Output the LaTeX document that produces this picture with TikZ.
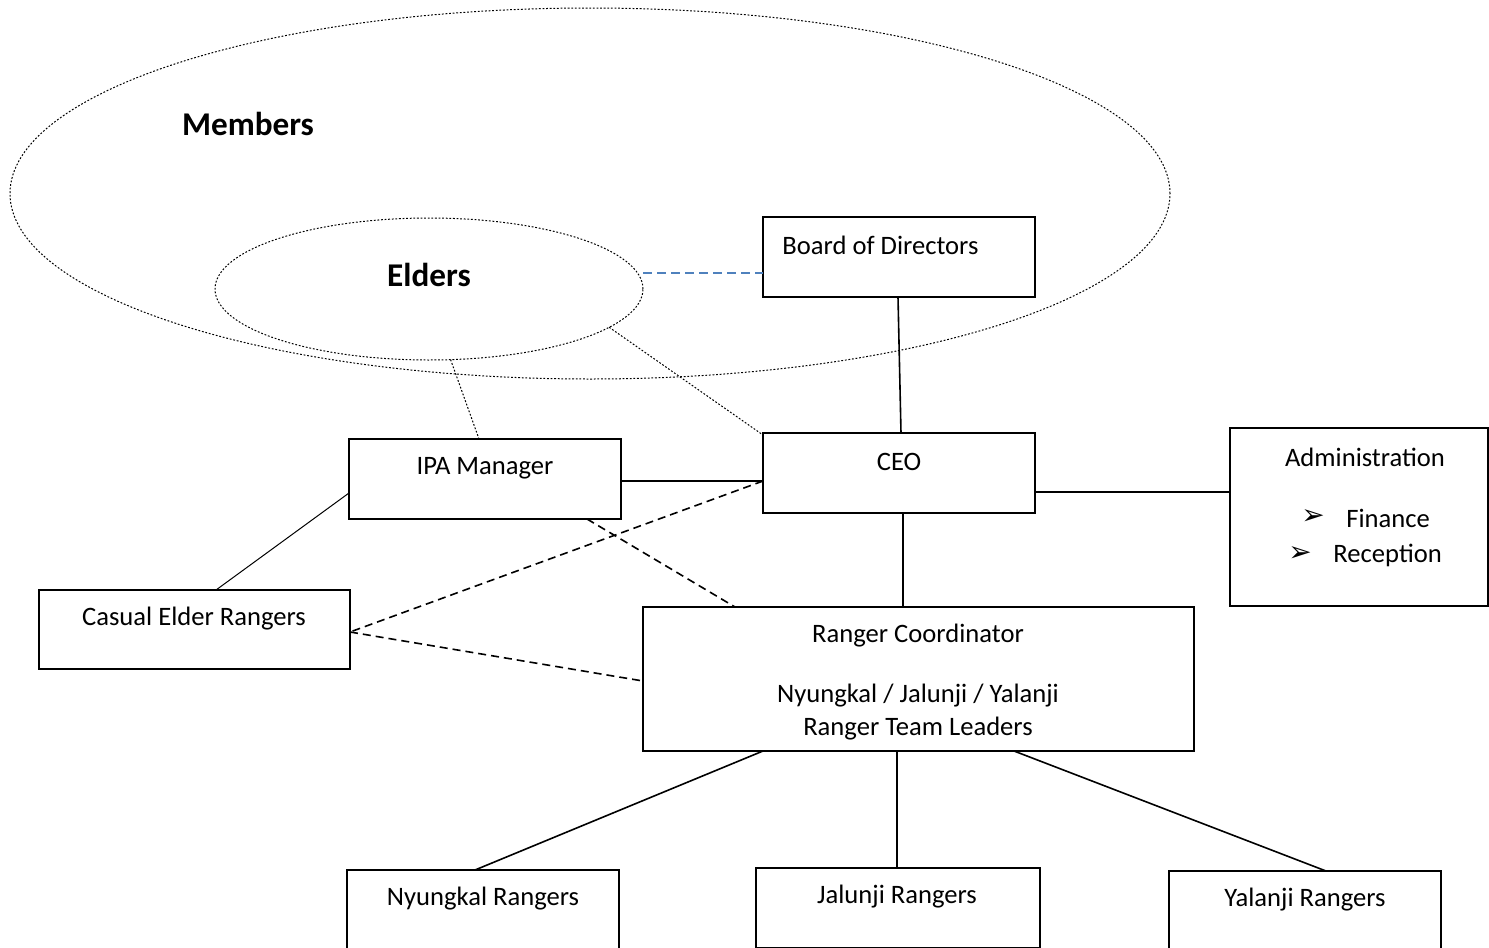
\documentclass[tikz,border=0pt]{standalone}
\usepackage{fontspec}
\setmainfont{Carlito}
\newfontfamily\symfont{DejaVu Sans}
\usetikzlibrary{shapes.geometric,calc}
\definecolor{linkblue}{HTML}{4F81BD}
\begin{document}
\begin{tikzpicture}[x=0.5pt,y=-0.5pt,
  box/.style={draw,line width=1pt,rectangle,inner sep=0pt,outer sep=0pt},
  ring/.style={draw,ellipse,line width=0.5pt,dash pattern=on 0.9pt off 0.9pt,inner sep=0pt,outer sep=0pt},
  txt/.style={font=\fontsize{13.3}{16}\selectfont,inner sep=0pt},
  big/.style={font=\fontsize{16.6}{20}\selectfont\bfseries,inner sep=0pt},
  solidlink/.style={line width=0.8pt},
  thinlink/.style={line width=0.5pt},
  dashlink/.style={line width=0.8pt,dash pattern=on 4pt off 2.5pt},
  dotlink/.style={line width=0.5pt,dash pattern=on 0.9pt off 0.9pt},
  bluelink/.style={line width=1pt,linkblue,dash pattern=on 4.5pt off 2.5pt}]
\useasboundingbox (0,0) rectangle (1489,948);
\clip (0,0) rectangle (1489,948);
% ellipses
\node[ring,minimum width=580pt,minimum height=185.5pt] (members) at (590,193.5) {};
\node[ring,minimum width=214pt,minimum height=71pt] (elders) at (429,289) {};
\node[big] (memberst) at (248,124) {Members};
\node[big] (elderst) at (429,275) {Elders};
% boxes
\node[box,minimum width=136pt,minimum height=40pt] (board) at (899,257) {};
\node[box,minimum width=136pt,minimum height=40pt] (ceo) at (899,473) {};
\node[box,minimum width=136pt,minimum height=40pt] (ipa) at (485,479) {};
\node[box,minimum width=129pt,minimum height=89pt] (admin) at (1359,517) {};
\node[box,minimum width=155.5pt,minimum height=39.5pt] (casual) at (194.5,629.5) {};
\node[box,minimum width=275.5pt,minimum height=72pt] (rc) at (918.5,679) {};
\node[box,minimum width=136pt,minimum height=40pt] (nyung) at (483,910) {};
\node[box,minimum width=142pt,minimum height=40pt] (jalun) at (898,908) {};
\node[box,minimum width=136pt,minimum height=40pt] (yalan) at (1305,911) {};
% texts
\node[txt,anchor=west] (boardt) at (782,245) {Board of Directors};
\node[txt] (ceot) at (899,462) {CEO};
\node[txt] (ipat) at (485,468) {IPA Manager};
\node[txt] (admint) at (1365,457) {Administration};
\node[txt] (bul1) at (1313,517) {\symfont\fontsize{14}{16}\selectfont ➢};
\node[txt,anchor=west] (fint) at (1346,518) {Finance};
\node[txt] (bul2) at (1300,554) {\symfont\fontsize{14}{16}\selectfont ➢};
\node[txt,anchor=west] (rect) at (1333,555) {Reception};
\node[txt] (casualt) at (194,619) {Casual Elder Rangers};
\node[txt] (rct1) at (918,636) {Ranger Coordinator};
\node[txt] (rct2) at (918,696) {Nyungkal / Jalunji / Yalanji};
\node[txt] (rct3) at (918,729) {Ranger Team Leaders};
\node[txt] (nyungt) at (483,899) {Nyungkal Rangers};
\node[txt] (jalunt) at (897,897) {Jalunji Rangers};
\node[txt] (yalant) at (1305,900) {Yalanji Rangers};
% connectors
\coordinate (bluestart) at ($(elders.east)+(0,-16)$);
\draw[bluelink] (bluestart) -- (bluestart -| board.west);
\draw[solidlink] ($(board.south)+(-1,0)$) -- ($(ceo.north)+(2,0)$);
\draw[dotlink] (elders.-73) -- ($(ipa.north)+(-6,0)$);
\draw[dotlink] (elders.-12) -- ($(ceo.north west)+(0,2)$);
\draw[solidlink] ($(ipa.east)+(0,2)$) -- ($(ceo.west)+(0,8)$);
\draw[solidlink] ($(ceo.east)+(0,19)$) -- ($(admin.west)+(0,-25)$);
\draw[solidlink] ($(ceo.south)+(4,0)$) -- ($(rc.north)+(-15.5,0)$);
\draw[thinlink] ($(ipa.west)+(0,14)$) -- ($(casual.north)+(21.5,0)$);
\draw[dashlink] ($(ceo.west)+(0,8)$) -- ($(casual.east)+(0,2.5)$);
\draw[dashlink] ($(casual.east)+(0,2.5)$) -- ($(rc.west)+(0,2)$);
\draw[dashlink] ($(ipa.south)+(102,0)$) -- ($(rc.north west)+(92,0)$);
\draw[solidlink] ($(rc.south west)+(120,0)$) -- ($(nyung.north)+(-8,0)$);
\draw[solidlink] ($(rc.south west)+(254,0)$) -- ($(jalun.north)+(-1,0)$);
\draw[solidlink] ($(rc.south west)+(371,0)$) -- ($(yalan.north)+(21,0)$);
\end{tikzpicture}
\end{document}
